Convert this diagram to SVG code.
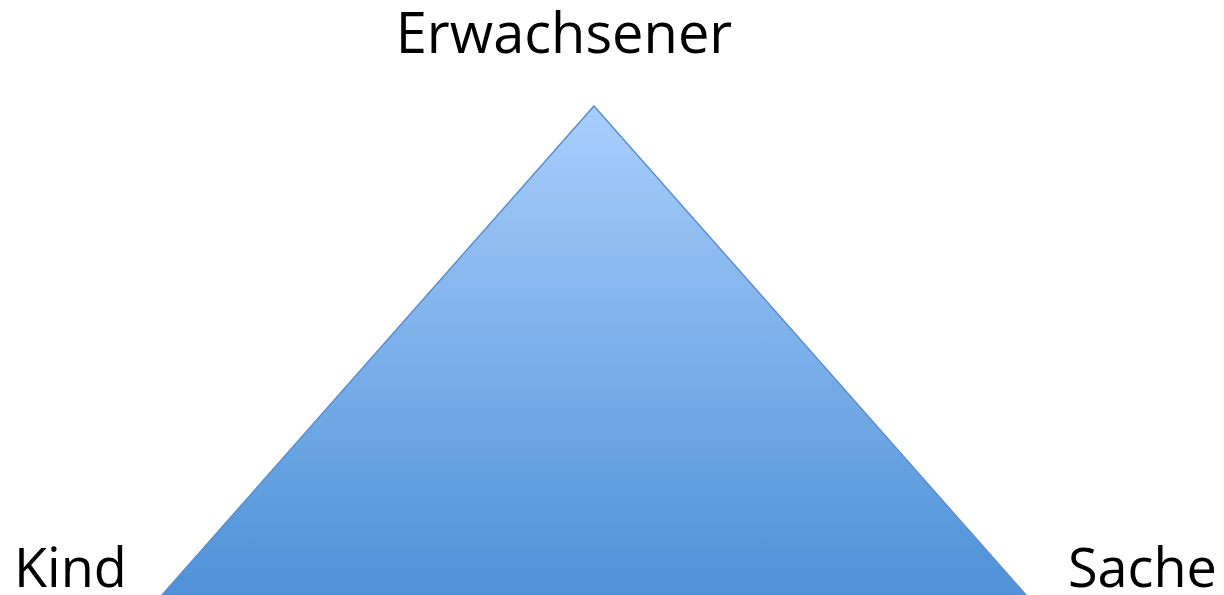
<svg xmlns="http://www.w3.org/2000/svg" width="1224" height="595" viewBox="0 0 1224 595">
<style>
.lbl{font-family:"Open Sans","Liberation Sans",sans-serif;font-size:54px;fill:#000}
.top{font-size:56px}
</style>
<defs>
<linearGradient id="g" x1="0" y1="106" x2="0" y2="600" gradientUnits="userSpaceOnUse">
<stop offset="0" stop-color="#a9cefc"/>
<stop offset="1" stop-color="#4d91d7"/>
</linearGradient>
</defs>
<rect width="1224" height="595" fill="#fff"/>
<g id="triangle">
<polygon points="594,106 1030.4,600 157.6,600" fill="url(#g)" stroke="#5a8fd0" stroke-width="1.5"/>
</g>
<g id="connectors"/>
<g id="erwachsener"><text class="lbl top" x="564" y="53" text-anchor="middle">Erwachsener</text></g>
<g id="kind"><text class="lbl" x="14" y="587">Kind</text></g>
<g id="sache"><text class="lbl" x="1068" y="587">Sache</text></g>
</svg>
